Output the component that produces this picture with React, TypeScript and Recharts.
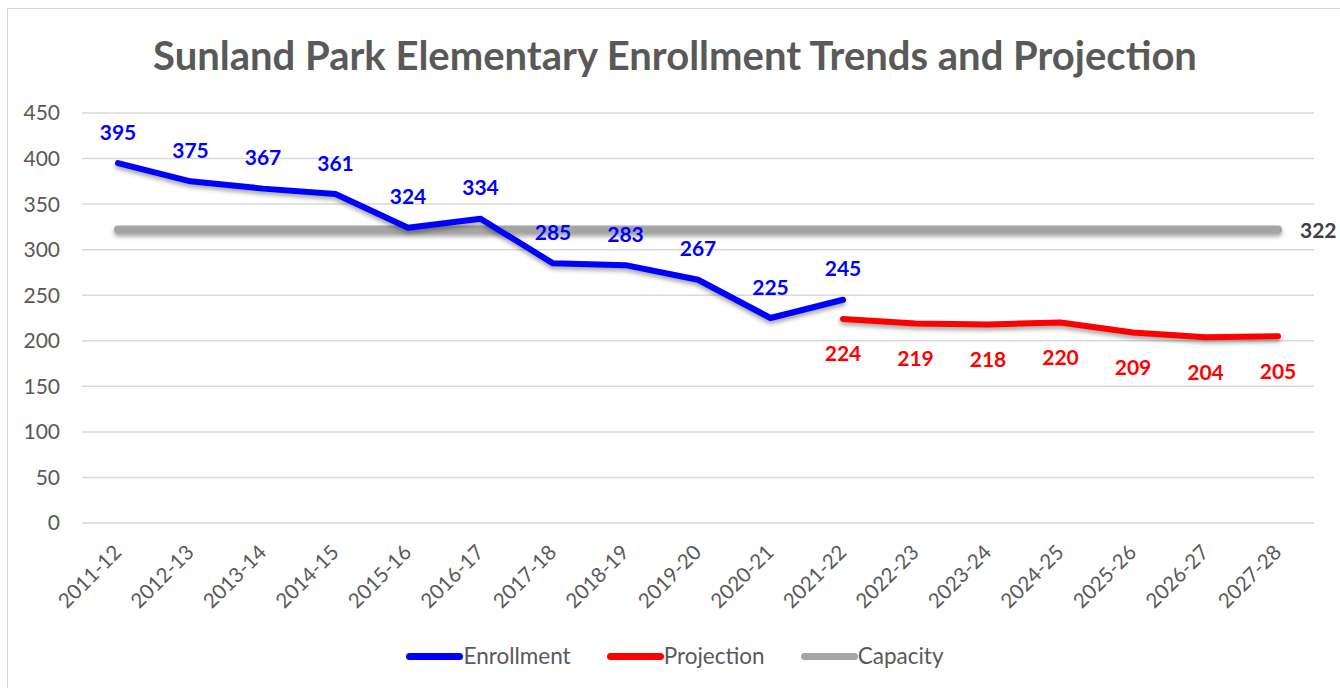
import React from "react";
import { LineChart, Line, XAxis, YAxis, CartesianGrid, LabelList } from "recharts";

const years = ["2011-12","2012-13","2013-14","2014-15","2015-16","2016-17","2017-18","2018-19","2019-20","2020-21","2021-22","2022-23","2023-24","2024-25","2025-26","2026-27","2027-28"];
const enrollment: (number | null)[] = [395,375,367,361,324,334,285,283,267,225,245,null,null,null,null,null,null];
const projection: (number | null)[] = [null,null,null,null,null,null,null,null,null,null,224,219,218,220,209,204,205];
const capacity: number[] = [322,322,322,322,322,322,322,322,322,322,322,322,322,322,322,322,322];
const yTicks = [0,50,100,150,200,250,300,350,400,450];

const data = years.map((y, i) => ({ year: y, enrollment: enrollment[i], projection: projection[i], capacity: capacity[i] }));

const FONT = "Lato, 'Open Sans', sans-serif";
const GRAY = "#595959";

const XTick = (props: any) => {
  const { x, y, payload } = props;
  return (
    <g transform={`translate(${x - 1},${y + 17})`}>
      <text transform="rotate(-45)" textAnchor="end" dominantBaseline="central" fill={GRAY} fontSize={20.5} fontFamily={FONT}>{payload.value}</text>
    </g>
  );
};

const makeLabel = (color: string, dy: number) => (props: any) => {
  const { x, y, value } = props;
  if (value === null || value === undefined) return null;
  return (
    <text x={x} y={y + dy} textAnchor="middle" dominantBaseline="central" fill={color} fontSize={21} fontWeight="bold" fontFamily={FONT}>{value}</text>
  );
};

const CapLabel = (props: any) => {
  const { x, y, value, index } = props;
  if (index !== capacity.length - 1) return null;
  return (
    <text x={x + 22} y={y} textAnchor="start" dominantBaseline="central" fill="#404040" fontSize={21} fontWeight="bold" fontFamily={FONT}>{value}</text>
  );
};

const legendItems = [
  { name: "Enrollment", color: "#0000FF" },
  { name: "Projection", color: "#FF0000" },
  { name: "Capacity", color: "#A5A5A5" },
];

export default function App() {
  return (
    <div style={{ position: "absolute", left: 0, top: 0, width: 1340, height: 688, overflow: "hidden", background: "#fff", fontFamily: FONT }}>
      <style>{`.recharts-line-curve { filter: drop-shadow(0px 3px 2px rgba(0,0,0,0.35)); }`}</style>
      <div style={{ position: "absolute", left: 7, top: 8, width: 1500, height: 900, border: "1.5px solid #D9D9D9" }} />
      <div style={{ position: "absolute", left: 0, top: 29, width: 1350, textAlign: "center", fontSize: 40, fontWeight: "bold", color: GRAY, lineHeight: "52px" }}>
        Sunland Park Elementary Enrollment Trends and Projection
      </div>
      <div style={{ position: "absolute", left: 0, top: 0 }}>
        <LineChart width={1340} height={688} data={data} margin={{ top: 113, right: 26, left: 22, bottom: 95 }}>
          <CartesianGrid vertical={false} stroke="#D9D9D9" strokeWidth={1.5} />
          <XAxis dataKey="year" interval={0} height={70} tickLine={false} axisLine={false} tick={<XTick />} padding={{ left: 36, right: 36 }} />
          <YAxis width={60} domain={[0, 450]} ticks={yTicks} axisLine={false} tickLine={false} tickMargin={16} tick={{ fill: GRAY, fontSize: 21, fontFamily: FONT }} />
          <Line dataKey="capacity" stroke="#A5A5A5" strokeWidth={8} dot={false} isAnimationActive={false} strokeLinecap="round" strokeLinejoin="round">
            <LabelList dataKey="capacity" content={<CapLabel />} />
          </Line>
          <Line dataKey="enrollment" stroke="#0000FF" strokeWidth={6} dot={false} isAnimationActive={false} strokeLinecap="round" strokeLinejoin="round" connectNulls={false}>
            <LabelList dataKey="enrollment" content={makeLabel("#0000FF", -32)} />
          </Line>
          <Line dataKey="projection" stroke="#FF0000" strokeWidth={6} dot={false} isAnimationActive={false} strokeLinecap="round" strokeLinejoin="round" connectNulls={false}>
            <LabelList dataKey="projection" content={makeLabel("#FF0000", 34)} />
          </Line>
        </LineChart>
      </div>
      <div style={{ position: "absolute", left: 0, top: 642, width: 1350, display: "flex", justifyContent: "center", gap: 36, fontSize: 22.5, color: GRAY }}>
        {legendItems.map((it) => (
          <div key={it.name} style={{ display: "flex", alignItems: "center" }}>
            <div style={{ width: 57, height: 7, borderRadius: 4, background: it.color }} />
            <span style={{ lineHeight: "28px" }}>{it.name}</span>
          </div>
        ))}
      </div>
    </div>
  );
}
